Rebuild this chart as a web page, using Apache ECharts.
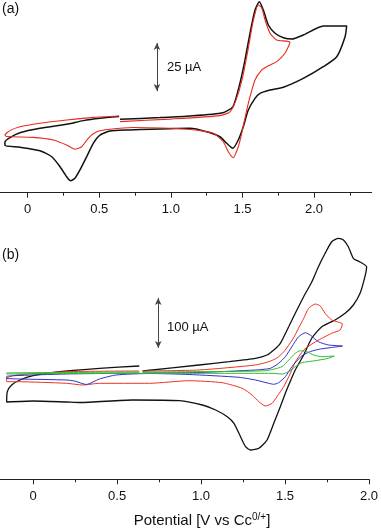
<!DOCTYPE html>
<html lang="en">
<head>
<meta charset="UTF-8">
<title>Cyclic voltammograms</title>
<script src="https://cdn.jsdelivr.net/npm/echarts@6.0.0/dist/echarts.min.js"></script>
<style>
  html, body { margin: 0; padding: 0; background: #fff; }
  #main { width: 381px; height: 529px; }
</style>
</head>
<body>
<div id="main"></div>
<script>
// potential in V vs Cc0/+, current in µA (zero is arbitrary, the curves have no y axis)

// panel (a)
var aBlackV = [0.645, 0.924, 1.134, 1.364, 1.434, 1.483, 1.518, 1.553, 1.588, 1.618, 1.646, 1.681, 1.728, 1.786, 1.844, 1.925, 2.065, 2.228,
  2.217, 2.159, 2.065, 1.925, 1.786, 1.693, 1.623, 1.588, 1.541, 1.506, 1.471, 1.432, 1.390, 1.343, 1.250, 1.134, 0.692, 0.575, 0.505, 0.458,
  0.412, 0.365, 0.330, 0.300, 0.272, 0.226, 0.168, 0.086, -0.054, -0.159,
  -0.159, -0.124, -0.054, 0.086, 0.272, 0.388, 0.505, 0.638];
var aBlackI = [16.0, 16.9, 17.7, 19.4, 22.6, 34.9, 46.9, 60.9, 72.9, 77.2, 72.9, 65.1, 60.8, 58.5, 57.8, 59.9, 64.6, 64.6,
  59.0, 48.6, 43.4, 37.3, 32.7, 31.2, 29.5, 26.9, 20.8, 12.1, 5.2, 0.9, 3.5, 6.9, 9.5, 11.3, 10.4, 9.9, 7.8, 3.5,
  -3.5, -10.4, -14.7, -16.0, -13.9, -8.7, -3.5, -0.4, 1.4, 2.3,
  4.2, 6.5, 9.0, 11.3, 13.4, 15.3, 16.5, 17.4];

var aRedV = [0.645, 0.994, 1.343, 1.413, 1.455, 1.497, 1.539, 1.574, 1.611, 1.635, 1.658, 1.693, 1.739, 1.832,
  1.797, 1.739, 1.670, 1.635, 1.588, 1.553, 1.525, 1.495, 1.471, 1.436, 1.401, 1.366, 1.297, 1.134, 0.738, 0.575,
  0.482, 0.423, 0.377, 0.330, 0.272, 0.179, 0.039, -0.147,
  -0.159, -0.124, -0.054, 0.086, 0.272, 0.458, 0.640];
var aRedI = [14.8, 16.1, 17.9, 19.9, 26.0, 36.5, 52.1, 66.7, 75.5, 74.0, 67.7, 60.8, 57.3, 56.1,
  50.4, 46.0, 43.4, 41.7, 36.5, 27.8, 19.1, 8.7, 1.7, -4.0, -0.9, 4.3, 8.7, 10.7, 11.7, 10.8,
  9.5, 6.1, 1.7, 0.4, 2.6, 5.2, 6.6, 7.0,
  7.8, 10.1, 12.1, 13.9, 15.6, 17.0, 17.7];

// panel (b)
var bBlackV = [0.652, 0.988, 1.166, 1.324, 1.393, 1.433, 1.472, 1.522, 1.561, 1.611, 1.660, 1.699, 1.739, 1.778, 1.818, 1.848, 1.877, 1.907, 1.947, 1.986,
  1.976, 1.947, 1.907, 1.858, 1.798, 1.719, 1.660, 1.611, 1.561, 1.522, 1.502, 1.472, 1.433, 1.393, 1.344, 1.295, 1.265, 1.235, 1.196, 1.156,
  1.087, 1.008, 0.870, 0.593, 0.277, 0.198, 0, -0.158,
  -0.154, -0.128, -0.079, 0, 0.158, 0.395, 0.632];
var bBlackI = [8, 20, 26.6, 33.4, 40, 50, 63.4, 96.6, 123.4, 156.6, 186.6, 216.6, 243.4, 266.6, 273.4, 270, 256.6, 233.4, 226, 216.6,
  196.6, 163.4, 140, 123.4, 110, 96.6, 74, 40, 10, -20, -36.6, -63.4, -96.6, -130, -146.6, -150, -143.4, -123.4, -96.6, -83.4,
  -70, -60, -51.4, -50, -55, -54, -52, -54,
  -33.4, -20, -10, -1.4, 6.6, 13.4, 18];

var bRedV = [0.652, 0.988, 1.324, 1.403, 1.452, 1.492, 1.527, 1.557, 1.581, 1.611, 1.640, 1.680, 1.710, 1.739, 1.778, 1.842,
  1.828, 1.778, 1.719, 1.660, 1.611, 1.561, 1.532, 1.492, 1.452, 1.423, 1.383, 1.344, 1.304, 1.245, 1.126, 0.929, 0.692, 0.395,
  0.296, 0.198, -0.098, -0.158,
  -0.158, -0.098, 0.198, 0.632];
var bRedI = [8, 10, 20, 26.6, 34, 46, 62, 78, 94, 113, 133, 142, 138, 123.4, 110, 102,
  90, 83.4, 73.4, 62, 50, 26, 3.4, -23.4, -43.4, -56.6, -62, -53.4, -40, -26.6, -15.4, -11.4, -16.6, -16.6,
  -20, -16.6, -13.4, -13.4,
  -6.6, 0, 6.6, 8];

var bBlueV = [0.652, 0.988, 1.324, 1.413, 1.462, 1.502, 1.541, 1.581, 1.621, 1.650, 1.699, 1.759, 1.842,
  1.777, 1.711, 1.652, 1.599, 1.541, 1.502, 1.462, 1.433, 1.403, 1.324, 1.225, 0.929, 0.692, 0.494, 0.395, 0.317, 0.247, 0.198, -0.079, -0.158,
  -0.158, -0.119, 0.198, 0.632];
var bBlueI = [4, 5, 10, 13.4, 23.4, 36.6, 56.6, 76.6, 84.6, 80, 66.6, 60, 58,
  55, 52, 47, 38, 16.6, -3.4, -15.4, -18.6, -16.6, -10, -4.6, 1, 3, 0, -8, -19, -12, -10, -8, -6.6,
  -3, -1.4, 2, 4];

var bGreenV = [0.652, 0.929, 1.383, 1.482, 1.522, 1.561, 1.591, 1.630, 1.670, 1.719, 1.793,
  1.759, 1.680, 1.600, 1.561, 1.522, 1.482, 1.423, 0.929, 0.198, -0.158,
  -0.158, 0.198, 0.632];
var bGreenI = [6, 6.6, 8.6, 16.6, 30, 43.4, 48.6, 46.6, 40, 36.6, 38,
  33.4, 28.6, 24.6, 16.6, 6.6, 2, 3.4, 3.4, 3, 2,
  4, 5, 6];

// axis ticks
var majorTicks = [0, 0.5, 1.0, 1.5, 2.0];
var aMinorTicks = [0.25, 0.75, 1.25, 1.75, 2.25];
var bMinorTicks = [0.25, 0.75, 1.25, 1.75];

// scale bars: [potential, from current, to current]
var aScaleBar = [0.903, 30.7, 55.7];   // 25 µA
var bScaleBar = [0.745, 54, 154];      // 100 µA

function zip(xs, ys) {
  return xs.map(function (x, i) { return [x, ys[i]]; });
}

var FONT = "'Liberation Sans', Arial, Helvetica, sans-serif";
var AXIS_COLOR = '#222';

function mainXAxis(grid, min, max, margin) {
  return {
    gridIndex: grid, type: 'value', min: min, max: max,
    axisLine: { onZero: false, lineStyle: { color: AXIS_COLOR, width: 1 } },
    axisTick: { customValues: majorTicks, length: 5, lineStyle: { color: AXIS_COLOR } },
    axisLabel: {
      customValues: majorTicks, margin: margin, fontSize: 13, fontFamily: FONT, color: '#111',
      formatter: function (v) { return v === 0 ? '0' : v.toFixed(1); }
    },
    splitLine: { show: false }
  };
}

function minorXAxis(grid, min, max, ticks) {
  return {
    gridIndex: grid, type: 'value', min: min, max: max, position: 'bottom',
    axisLine: { show: false, onZero: false },
    axisTick: { customValues: ticks, length: 3, lineStyle: { color: AXIS_COLOR } },
    axisLabel: { show: false },
    splitLine: { show: false }
  };
}

function scaleBar(bar) {
  return {
    silent: true,
    symbol: ['arrow', 'arrow'],
    symbolSize: [5, 7],
    label: { show: false },
    lineStyle: { color: '#444', width: 1, type: 'solid' },
    data: [[{ coord: [bar[0], bar[1]] }, { coord: [bar[0], bar[2]] }]]
  };
}

function cv(name, xAxis, yAxis, xs, ys, color, width, extra) {
  var s = {
    name: name, type: 'line', xAxisIndex: xAxis, yAxisIndex: yAxis,
    data: zip(xs, ys), showSymbol: false, smooth: 0.2, clip: false,
    lineStyle: { color: color, width: width }
  };
  if (extra) s.markLine = extra;
  return s;
}

var chart = echarts.init(document.getElementById('main'));

chart.setOption({
  animation: false,
  backgroundColor: '#fff',
  grid: [
    { left: 0, top: 0, width: 371.7, height: 192.7 },
    { left: 0, top: 230, width: 370.7, height: 249.3 }
  ],
  xAxis: [
    mainXAxis(0, -0.1935, 2.403, 10),
    minorXAxis(0, -0.1935, 2.403, aMinorTicks),
    mainXAxis(1, -0.1974, 2.0, 11),
    minorXAxis(1, -0.1974, 2.0, bMinorTicks)
  ],
  yAxis: [
    { gridIndex: 0, type: 'value', show: false, min: -22.24, max: 78.125, splitLine: { show: false } },
    { gridIndex: 1, type: 'value', show: false, min: -208.6, max: 290, splitLine: { show: false } }
  ],
  series: [
    cv('a black', 0, 0, aBlackV, aBlackI, '#111', 1.5, scaleBar(aScaleBar)),
    cv('a red', 0, 0, aRedV, aRedI, '#e8291e', 1.1),
    cv('b black', 2, 1, bBlackV, bBlackI, '#111', 1.3, scaleBar(bScaleBar)),
    cv('b red', 2, 1, bRedV, bRedI, '#ee3322', 1),
    cv('b blue', 2, 1, bBlueV, bBlueI, '#3030c8', 1),
    cv('b green', 2, 1, bGreenV, bGreenI, '#33bb33', 1)
  ],
  graphic: [
    { type: 'text', x: 2, y: 9, style: { text: '(a)', font: '14px ' + FONT, fill: '#111', verticalAlign: 'middle' } },
    { type: 'text', x: 2, y: 255, style: { text: '(b)', font: '14px ' + FONT, fill: '#111', verticalAlign: 'middle' } },
    { type: 'text', x: 167, y: 67, style: { text: '25 µA', font: '13px ' + FONT, fill: '#111', verticalAlign: 'middle' } },
    { type: 'text', x: 167, y: 327, style: { text: '100 µA', font: '13px ' + FONT, fill: '#111', verticalAlign: 'middle' } },
    {
      type: 'text', x: 202, y: 521,
      style: {
        text: 'Potential [V vs Cc{s|0/+}]',
        font: '15px ' + FONT, fill: '#111', align: 'center', verticalAlign: 'middle',
        rich: { s: { fontSize: 10, fontFamily: FONT, fill: '#111', verticalAlign: 'top', padding: [0, 0, 7, 0] } }
      }
    }
  ]
});
</script>
</body>
</html>
